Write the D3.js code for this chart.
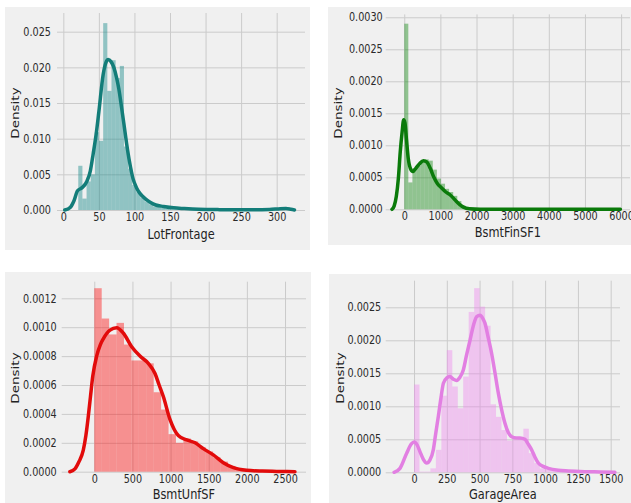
<!DOCTYPE html>
<html>
<head>
<meta charset="utf-8">
<script src="https://cdn.jsdelivr.net/npm/d3@7"></script>
<style>
body { margin: 0; background: #fff; }
text { font-family: "DejaVu Sans", sans-serif; }
</style>
</head>
<body>
<svg id="chart" width="631" height="503"></svg>
<script>
// ---- data ----
// LotFrontage: histogram bins start at 21, width 5.84
var lotHist = [0.0062, 0.0016, 0.0040, 0.0050, 0.0109, 0.0097, 0.0262, 0.0167, 0.0210, 0.0185,
               0.0202, 0.0089, 0.0058, 0.0035, 0.0025, 0.0017, 0.0012, 0.0008, 0.0005, 0.0004,
               0.0003, 0.0002, 0.0001, 0.0001, 0.0001, 0.0001, 0.00005, 0, 0.00005, 0,
               0, 0, 0, 0, 0, 0, 0, 0, 0, 0,
               0, 0, 0, 0, 0, 0, 0, 0, 0, 0.0002];
var lotKde = [[2,0],[10,0.0004],[15,0.0013],[20,0.0027],[26,0.0031],[33,0.0040],[38,0.0055],[42,0.0079],
              [46,0.0105],[50,0.0138],[56,0.0190],[60,0.0207],[63,0.0211],[67,0.0208],[71,0.0200],
              [75,0.0185],[78,0.0170],[82,0.0143],[85,0.0122],[89,0.0093],[93,0.0068],[98,0.0044],
              [103,0.0031],[108,0.0023],[115,0.0016],[122,0.0011],[130,0.0007],[141,0.0005],
              [155,0.0003],[170,0.0002],[190,0.0001],[220,0.00005],[260,0.00003],[290,0.00007],
              [305,0.00018],[313,0.0002],[320,0.0001],[325,0]];
var lotXTicks = [0, 50, 100, 150, 200, 250, 300];
var lotYTicks = [0, 0.005, 0.010, 0.015, 0.020, 0.025];

// BsmtFinSF1: bins start at 0, width 112.88
var finHist = [0.0029, 0.00042, 0.00064, 0.00068, 0.00076, 0.00078, 0.00076, 0.00062, 0.00048, 0.00040,
               0.00032, 0.00027, 0.00021, 0.00013, 0.00006, 0.00002, 0.00001];
var finKde = [[-340,0],[-280,0.00005],[-220,0.0002],[-160,0.0005],[-110,0.0009],[-60,0.0012],[-15,0.0014],
              [20,0.00135],[60,0.0011],[110,0.0008],[170,0.00064],[240,0.00059],[320,0.00064],
              [420,0.00071],[530,0.00076],[620,0.00074],[720,0.00064],[820,0.00050],[920,0.00040],
              [1020,0.00034],[1150,0.00027],[1280,0.00022],[1400,0.00015],[1520,0.00008],
              [1650,0.00003],[1800,0.00001],[2100,0.000002],[3000,0.000001],[4000,0],
              [5000,0.000001],[5980,0]];
var finXTicks = [0, 1000, 2000, 3000, 4000, 5000, 6000];
var finYTicks = [0, 0.0005, 0.0010, 0.0015, 0.0020, 0.0025, 0.0030];

// BsmtUnfSF: bins start at 0, width 97.33
var unfHist = [0.00127, 0.00106, 0.00095, 0.00103, 0.00088, 0.00077, 0.00077, 0.00075, 0.00055, 0.00043,
               0.00026, 0.00020, 0.00023, 0.00021, 0.00017, 0.00014, 0.00010, 0.00007, 0.00004, 0.00002,
               0.00001, 0.00001, 0.000005, 0.000005];
var unfKde = [[-320,0],[-253,0.00002],[-200,0.00007],[-144,0.00015],[-110,0.00025],[-79,0.00038],
              [-50,0.00052],[-20,0.00066],[31,0.0008],[80,0.00088],[118,0.00092],[206,0.00098],
              [293,0.000997],[380,0.00096],[490,0.000865],[599,0.0008],[708,0.00075],[796,0.00068],
              [850,0.0006],[905,0.00052],[993,0.00036],[1101,0.00025],[1212,0.00022],[1321,0.0002],
              [1429,0.00016],[1560,0.000116],[1691,0.000062],[1823,0.000028],[1998,0.00001],
              [2200,0.000004],[2390,0.000002],[2630,0]];
var unfXTicks = [0, 500, 1000, 1500, 2000, 2500];
var unfYTicks = [0, 0.0002, 0.0004, 0.0006, 0.0008, 0.0010, 0.0012];

// GarageArea: bins start at 0, width 41.7
var garHist = [0.00133, 0.00001, 0.00001, 0.00006, 0.00034, 0.00116, 0.00185, 0.00130, 0.00097, 0.00145,
               0.00243, 0.00279, 0.00251, 0.00222, 0.00103, 0.00084, 0.00064, 0.00048, 0.00049, 0.00053,
               0.00066, 0.00029, 0.00014, 0.00006, 0.00004, 0.00003, 0.00002, 0.00001, 0.00001, 0.00001,
               0.00001, 0.00001, 0.00001, 0.00001];
var garKde = [[-152,0],[-107,0.00006],[-56,0.00029],[-20,0.00043],[0,0.00046],[25,0.00041],[46,0.00031],
              [70,0.0002],[97,0.00014],[120,0.00018],[147,0.00034],[165,0.00058],[185,0.00084],
              [205,0.00112],[224,0.00135],[250,0.00143],[274,0.00145],[300,0.00141],[325,0.00139],
              [350,0.00144],[376,0.00155],[400,0.00177],[427,0.002],[455,0.00224],[478,0.00236],
              [503,0.00238],[525,0.00233],[541,0.00226],[565,0.00205],[592,0.0018],[618,0.0015],
              [643,0.0012],[668,0.00095],[694,0.00074],[720,0.0006],[745,0.00054],[780,0.00052],
              [808,0.00052],[846,0.0005],[870,0.00043],[897,0.00034],[920,0.00024],[948,0.00014],
              [985,0.00009],[1024,0.00006],[1100,0.00003],[1177,0.00002],[1300,0.00001],
              [1420,0.000005],[1532,0]];
var garXTicks = [0, 250, 500, 750, 1000, 1250, 1500];
var garYTicks = [0, 0.0005, 0.0010, 0.0015, 0.0020, 0.0025];

// ---- layout ----
var svg = d3.select("#chart");
var sx = 0.84; // text in the picture is horizontally squeezed

var panels = [
  { name: "LotFrontage", hist: lotHist, binStart: 21, binWidth: 5.84, kde: lotKde,
    xTicks: lotXTicks, yTicks: lotYTicks, yFmt: ".3f",
    bar: "#008080", line: "#137d79",
    bg: [5, 7, 305, 243], left: 57, right: 305, top: 13, bottom: 210,
    xDomain: [-8.9, 339.8], yMax: 0.02762, yPad: 6,
    densX: 15, densY: 113, titleY: 234 },
  { name: "BsmtFinSF1", hist: finHist, binStart: 0, binWidth: 112.88, kde: finKde,
    xTicks: finXTicks, yTicks: finYTicks, yFmt: ".4f",
    bar: "#008000", line: "#0a7a0a",
    bg: [328, 7, 303, 238], left: 385.7, right: 630, top: 14.4, bottom: 209.3,
    xDomain: [-513, 6246], yMax: 0.003045, yPad: 3,
    densX: 338, densY: 113, titleY: 232 },
  { name: "BsmtUnfSF", hist: unfHist, binStart: 0, binWidth: 97.33, kde: unfKde,
    xTicks: unfXTicks, yTicks: unfYTicks, yFmt: ".4f",
    bar: "#ff0000", line: "#e20b0b",
    bg: [5, 272, 306, 231], left: 61.7, right: 306, top: 281.7, bottom: 471.7,
    xDomain: [-427, 2775], yMax: 0.001315, yPad: 5,
    densX: 15, densY: 378, titleY: 494.5 },
  { name: "GarageArea", hist: garHist, binStart: 0, binWidth: 41.7, kde: garKde,
    xTicks: garXTicks, yTicks: garYTicks, yFmt: ".4f",
    bar: "#ee82ee", line: "#e27fe2",
    bg: [329, 274, 302, 229], left: 385.7, right: 620, top: 280.7, bottom: 472.3,
    xDomain: [-216, 1571], yMax: 0.002903, yPad: 4.5,
    densX: 340, densY: 378, titleY: 494.5 }
];

panels.forEach(function(p) {
  var g = svg.append("g");

  // grey axes background
  g.append("rect")
   .attr("x", p.bg[0]).attr("y", p.bg[1])
   .attr("width", p.bg[2]).attr("height", p.bg[3])
   .attr("fill", "#f0f0f0");

  var x = d3.scaleLinear().domain(p.xDomain).range([p.left, p.right]);
  var y = d3.scaleLinear().domain([0, p.yMax]).range([p.bottom, p.top]);

  // axes double as the grid
  var gx = g.append("g")
    .attr("transform", "translate(0," + p.bottom + ")")
    .call(d3.axisBottom(x).tickValues(p.xTicks).tickFormat(d3.format("d"))
          .tickSizeInner(-(p.bottom - p.top)).tickSizeOuter(0).tickPadding(3));
  var gy = g.append("g")
    .attr("transform", "translate(" + p.left + ",0)")
    .call(d3.axisLeft(y).tickValues(p.yTicks).tickFormat(d3.format(p.yFmt))
          .tickSizeInner(-(p.right - p.left)).tickSizeOuter(0).tickPadding(p.yPad / sx));
  [gx, gy].forEach(function(a) {
    a.select(".domain").remove();
    a.selectAll("line").attr("stroke", "#cbcbcb").attr("stroke-width", 1);
    a.selectAll("text")
     .attr("fill", "#2a2a2a")
     .attr("font-size", 11.5)
     .attr("transform", "scale(" + sx + ",1)");
  });

  // histogram bars
  g.selectAll(".bar")
   .data(p.hist)
   .enter()
   .append("rect")
   .attr("class", "bar")
   .attr("x", function(d, i) { return x(p.binStart + i * p.binWidth); })
   .attr("width", function(d, i) { return x(p.binStart + (i + 1) * p.binWidth) - x(p.binStart + i * p.binWidth); })
   .attr("y", function(d) { return y(d); })
   .attr("height", function(d) { return y(0) - y(d); })
   .attr("fill", p.bar)
   .attr("fill-opacity", 0.4);

  // density curve
  var line = d3.line()
    .x(function(d) { return x(d[0]); })
    .y(function(d) { return y(d[1]); })
    .curve(d3.curveMonotoneX);
  g.append("path")
   .datum(p.kde)
   .attr("d", line)
   .attr("fill", "none")
   .attr("stroke", p.line)
   .attr("stroke-width", 3.5)
   .attr("stroke-linecap", "round")
   .attr("stroke-linejoin", "round");

  // axis titles
  g.append("text")
   .attr("transform", "translate(" + ((p.left + p.right) / 2) + "," + p.titleY + ") scale(" + sx + ",1)")
   .attr("text-anchor", "middle")
   .attr("dominant-baseline", "central")
   .attr("font-size", 13.5)
   .attr("fill", "#222")
   .text(p.name);
  g.append("text")
   .attr("transform", "translate(" + p.densX + "," + p.densY + ") rotate(-90) scale(1," + sx + ")")
   .attr("text-anchor", "middle")
   .attr("dominant-baseline", "central")
   .attr("font-size", 13.5)
   .attr("fill", "#222")
   .text("Density");
});
</script>
</body>
</html>
